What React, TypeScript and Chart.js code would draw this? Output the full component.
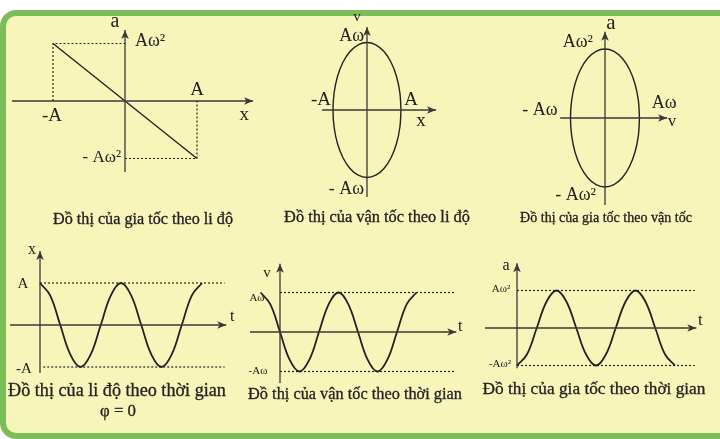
import React, { useEffect, useLayoutEffect, useRef } from "react";
import { Chart, registerables } from "chart.js";

Chart.register(...registerables);

const W = 720;
const H = 439;

// ---------------- data ----------------
// a = -ω²x : straight line through the origin
const accelLineX = [-1, 1];
const accelLineA = [1, -1];

// ellipse outline (normalised: horizontal / vertical amplitude units), every 15°
const ellipseU = [1, 0.966, 0.866, 0.707, 0.5, 0.259, 0, -0.259, -0.5, -0.707, -0.866, -0.966, -1, -0.966, -0.866, -0.707, -0.5, -0.259, 0, 0.259, 0.5, 0.707, 0.866, 0.966, 1];
const ellipseW = [0, 0.259, 0.5, 0.707, 0.866, 0.966, 1, 0.966, 0.866, 0.707, 0.5, 0.259, 0, -0.259, -0.5, -0.707, -0.866, -0.966, -1, -0.966, -0.866, -0.707, -0.5, -0.259, 0];

// time in periods (T = 1)
const timeX = [0, 0.125, 0.25, 0.375, 0.5, 0.625, 0.75, 0.875, 1, 1.125, 1.25, 1.375, 1.5, 1.625, 1.75, 1.875, 2];
const dispX = [1, 0.707, 0, -0.707, -1, -0.707, 0, 0.707, 1, 0.707, 0, -0.707, -1, -0.707, 0, 0.707, 1];

const timeV = [-0.25, -0.125, 0, 0.125, 0.25, 0.375, 0.5, 0.625, 0.75, 0.875, 1, 1.125, 1.25, 1.375, 1.5, 1.625, 1.75];
const veloV = [1, 0.707, 0, -0.707, -1, -0.707, 0, 0.707, 1, 0.707, 0, -0.707, -1, -0.707, 0, 0.707, 1];

const timeA = [0, 0.125, 0.25, 0.375, 0.5, 0.625, 0.75, 0.875, 1, 1.125, 1.25, 1.375, 1.5, 1.625, 1.75, 1.875, 2];
const accA = [-1, -0.707, 0, 0.707, 1, 0.707, 0, -0.707, -1, -0.707, 0, 0.707, 1, 0.707, 0, -0.707, -1];

const titles = [
  "Đồ thị của gia tốc theo li độ",
  "Đồ thị của vận tốc theo li độ",
  "Đồ thị của gia tốc theo vận tốc",
  "Đồ thị của li độ theo thời gian",
  "Đồ thị của vận tốc theo thời gian",
  "Đồ thị của gia tốc theo thời gian",
];
const phaseNote = "φ = 0";

// ---------------- styles ----------------
const INK = "#222222";
const AXIS = "#3a3a3a";
const PAPER = "#f7f5b9";
const GREEN = "#7bbd59";
const SERIF = '"Liberation Serif", "DejaVu Serif", serif';

type Pt = { x: number; y: number };
const pts = (xs: number[], ys: number[]): Pt[] => xs.map((x, i) => ({ x, y: ys[i] }));

const axisDs = (data: Pt[]) => ({
  data,
  showLine: true,
  borderColor: AXIS,
  borderWidth: 1.3,
  pointRadius: 0,
  arrow: true,
});
const dottedDs = (data: Pt[]) => ({
  data,
  showLine: true,
  borderColor: INK,
  borderWidth: 1.2,
  borderDash: [2, 2],
  pointRadius: 0,
});
const curveDs = (data: Pt[], width = 1.8) => ({
  data,
  showLine: true,
  borderColor: INK,
  borderWidth: width,
  pointRadius: 0,
  tension: 0.4,
});

type Lbl = { text: string; x: number; y: number; dx: number; dy: number; size: number; align?: CanvasTextAlign };
type Panel = { ox: number; oy: number; sx: number; sy: number; datasets: any[]; labels: Lbl[] };

const panels: Panel[] = [
  {
    ox: 125, oy: 101, sx: 72, sy: 57.5,
    datasets: [
      dottedDs([{ x: -1, y: 0 }, { x: -1, y: 1 }, { x: 0, y: 1 }]),
      dottedDs([{ x: 0, y: -1 }, { x: 1, y: -1 }, { x: 1, y: 0 }]),
      axisDs([{ x: -1.57, y: 0 }, { x: 1.78, y: 0 }]),
      axisDs([{ x: 0, y: -1.235 }, { x: 0, y: 1.235 }]),
      curveDs(pts(accelLineX, accelLineA), 1.4),
    ],
    labels: [
      { text: "a", x: 0, y: 1.235, dx: -10, dy: -8, size: 20 },
      { text: "Aω²", x: 0, y: 1, dx: 10, dy: -2, size: 18, align: "left" },
      { text: "-A", x: -1, y: 0, dx: -1, dy: 15, size: 19 },
      { text: "A", x: 1, y: 0, dx: 0, dy: -11, size: 19 },
      { text: "x", x: 1.78, y: 0, dx: -9, dy: 14, size: 19 },
      { text: "- Aω²", x: 0, y: -1, dx: -4, dy: -1, size: 17, align: "right" },
    ],
  },
  {
    ox: 367, oy: 110, sx: 34, sy: 67.5,
    datasets: [
      axisDs([{ x: -1.32, y: 0 }, { x: 2.03, y: 0 }]),
      axisDs([{ x: 0, y: -1.29 }, { x: 0, y: 1.23 }]),
      curveDs(pts(ellipseU, ellipseW), 1.4),
    ],
    labels: [
      { text: "v", x: 0, y: 1.23, dx: -10, dy: -10, size: 15 },
      { text: "Aω", x: 0, y: 1, dx: -3, dy: -6, size: 18, align: "right" },
      { text: "-A", x: -1, y: 0, dx: -12, dy: -10, size: 19 },
      { text: "A", x: 1, y: 0, dx: 10, dy: -10, size: 19 },
      { text: "x", x: 2.03, y: 0, dx: -15, dy: 11, size: 19 },
      { text: "- Aω", x: 0, y: -1, dx: -3, dy: 12, size: 18, align: "right" },
    ],
  },
  {
    ox: 605, oy: 118, sx: 34.5, sy: 69,
    datasets: [
      axisDs([{ x: -1.3, y: 0 }, { x: 1.8, y: 0 }]),
      axisDs([{ x: 0, y: -1.26 }, { x: 0, y: 1.25 }]),
      curveDs(pts(ellipseU, ellipseW), 1.4),
    ],
    labels: [
      { text: "a", x: 0, y: 1.25, dx: 6, dy: -8, size: 21 },
      { text: "Aω²", x: 0, y: 1, dx: -12, dy: -7, size: 18, align: "right" },
      { text: "- Aω", x: -1, y: 0, dx: -13, dy: -8, size: 18, align: "right" },
      { text: "Aω", x: 1.8, y: 0, dx: -3, dy: -15, size: 18 },
      { text: "v", x: 1.8, y: 0, dx: 5, dy: 4, size: 17 },
      { text: "- Aω²", x: 0, y: -1, dx: -9, dy: 8, size: 18, align: "right" },
    ],
  },
  {
    ox: 40, oy: 325, sx: 81, sy: 42,
    datasets: [
      dottedDs([{ x: 0, y: 1 }, { x: 2.28, y: 1 }]),
      dottedDs([{ x: 0.04, y: -1 }, { x: 2.28, y: -1 }]),
      axisDs([{ x: -0.37, y: 0 }, { x: 2.3, y: 0 }]),
      axisDs([{ x: 0, y: -1.14 }, { x: 0, y: 1.76 }]),
      curveDs(pts(timeX, dispX)),
    ],
    labels: [
      { text: "x", x: 0, y: 1.76, dx: -8, dy: -1, size: 16 },
      { text: "A", x: 0, y: 1, dx: -17, dy: 1, size: 15 },
      { text: "-A", x: 0, y: -1, dx: -16, dy: 2, size: 15 },
      { text: "t", x: 2.3, y: 0, dx: 6, dy: -8, size: 16 },
    ],
  },
  {
    ox: 280, oy: 332, sx: 78, sy: 39.5,
    datasets: [
      dottedDs([{ x: 0, y: 1 }, { x: 2.25, y: 1 }]),
      dottedDs([{ x: 0, y: -1 }, { x: 2.25, y: -1 }]),
      axisDs([{ x: -0.385, y: 0 }, { x: 2.26, y: 0 }]),
      axisDs([{ x: 0, y: -1.29 }, { x: 0, y: 1.73 }]),
      curveDs(pts(timeV, veloV)),
    ],
    labels: [
      { text: "v", x: 0, y: 1.73, dx: -13, dy: 9, size: 15 },
      { text: "Aω", x: 0, y: 1, dx: -23, dy: 6, size: 11 },
      { text: "-Aω", x: 0, y: -1, dx: -22, dy: 0, size: 11 },
      { text: "t", x: 2.26, y: 0, dx: 4, dy: -5, size: 16 },
    ],
  },
  {
    ox: 517, oy: 328, sx: 79, sy: 37.5,
    datasets: [
      dottedDs([{ x: 0, y: 1 }, { x: 2.25, y: 1 }]),
      dottedDs([{ x: 0, y: -1 }, { x: 2.25, y: -1 }]),
      axisDs([{ x: -0.405, y: 0 }, { x: 2.27, y: 0 }]),
      axisDs([{ x: 0, y: -1.07 }, { x: 0, y: 1.73 }]),
      curveDs(pts(timeA, accA)),
    ],
    labels: [
      { text: "a", x: 0, y: 1.73, dx: -11, dy: 3, size: 16 },
      { text: "Aω²", x: 0, y: 1, dx: -16, dy: -1, size: 11 },
      { text: "-Aω²", x: 0, y: -1, dx: -17, dy: -1, size: 11 },
      { text: "t", x: 2.27, y: 0, dx: 4, dy: -7, size: 17 },
    ],
  },
];

// title layout: centre x, centre y, target width, starting size
const titleLayout = [
  { cx: 143, cy: 219, w: 180, s: 16 },
  { cx: 377, cy: 217, w: 186, s: 16 },
  { cx: 606, cy: 217, w: 172, s: 14 },
  { cx: 117, cy: 390, w: 218, s: 17 },
  { cx: 355, cy: 394, w: 214, s: 16 },
  { cx: 594, cy: 389, w: 223, s: 17 },
];

function makePlugin(labels: Lbl[]) {
  return {
    id: "arrowsAndLabels",
    afterDatasetsDraw(chart: any) {
      const ctx: CanvasRenderingContext2D = chart.ctx;
      chart.data.datasets.forEach((ds: any, i: number) => {
        if (!ds.arrow) return;
        const els = chart.getDatasetMeta(i).data;
        const a = els[els.length - 2];
        const b = els[els.length - 1];
        const ang = Math.atan2(b.y - a.y, b.x - a.x);
        const L = 9;
        const hw = 3.8;
        const c = Math.cos(ang);
        const s = Math.sin(ang);
        ctx.save();
        ctx.fillStyle = ds.borderColor;
        ctx.beginPath();
        ctx.moveTo(b.x, b.y);
        ctx.lineTo(b.x - L * c - hw * s, b.y - L * s + hw * c);
        ctx.lineTo(b.x - L * 0.75 * c, b.y - L * 0.75 * s);
        ctx.lineTo(b.x - L * c + hw * s, b.y - L * s - hw * c);
        ctx.closePath();
        ctx.fill();
        ctx.restore();
      });
      const xs = chart.scales.x;
      const ys = chart.scales.y;
      ctx.save();
      ctx.fillStyle = INK;
      ctx.textBaseline = "middle";
      labels.forEach((l) => {
        ctx.font = `${l.size}px ${SERIF}`;
        ctx.textAlign = l.align || "center";
        ctx.fillText(l.text, xs.getPixelForValue(l.x) + l.dx, ys.getPixelForValue(l.y) + l.dy);
      });
      ctx.restore();
    },
  };
}

function PanelChart({ panel }: { panel: Panel }) {
  const ref = useRef<HTMLCanvasElement>(null);
  useEffect(() => {
    const { ox, oy, sx, sy } = panel;
    const chart = new Chart(ref.current as HTMLCanvasElement, {
      type: "scatter",
      data: { datasets: panel.datasets as any },
      options: {
        animation: false,
        responsive: false,
        events: [],
        layout: { padding: 0 },
        plugins: { legend: { display: false }, tooltip: { enabled: false }, title: { display: false } },
        scales: {
          x: { type: "linear", display: false, min: (0 - ox) / sx, max: (W - ox) / sx },
          y: { type: "linear", display: false, min: (oy - H) / sy, max: oy / sy },
        },
      },
      plugins: [makePlugin(panel.labels) as any],
    });
    return () => chart.destroy();
  }, [panel]);
  return (
    <canvas
      ref={ref}
      width={W}
      height={H}
      style={{ position: "absolute", left: 0, top: 0, width: W, height: H }}
    />
  );
}

function FitText({ text, cx, cy, w, s }: { text: string; cx: number; cy: number; w: number; s: number }) {
  const ref = useRef<HTMLSpanElement>(null);
  useLayoutEffect(() => {
    const el = ref.current;
    if (!el) return;
    el.style.fontSize = s + "px";
    const mw = el.getBoundingClientRect().width;
    if (mw > 0) el.style.fontSize = (s * w) / mw + "px";
  }, [text, w, s]);
  return (
    <span
      ref={ref}
      style={{
        position: "absolute",
        left: cx,
        top: cy,
        transform: "translate(-50%, -50%)",
        whiteSpace: "nowrap",
        fontFamily: SERIF,
        fontSize: s,
        lineHeight: 1,
        color: INK,
        WebkitTextStroke: "0.3px #222222",
      }}
    >
      {text}
    </span>
  );
}

export default function App() {
  return (
    <div
      style={{
        position: "fixed",
        left: 0,
        top: 0,
        width: W,
        height: H,
        overflow: "hidden",
        background: "#ffffff",
      }}
    >
      <div
        style={{
          position: "absolute",
          left: 0,
          top: 10,
          width: W + 40,
          height: H - 10,
          boxSizing: "border-box",
          border: `6px solid ${GREEN}`,
          borderRadius: 16,
          background: PAPER,
        }}
      />
      {panels.map((p, i) => (
        <PanelChart key={i} panel={p} />
      ))}
      {titles.map((t, i) => (
        <FitText key={i} text={t} {...titleLayout[i]} />
      ))}
      <FitText text={phaseNote} cx={118} cy={411} w={36} s={17} />
    </div>
  );
}
